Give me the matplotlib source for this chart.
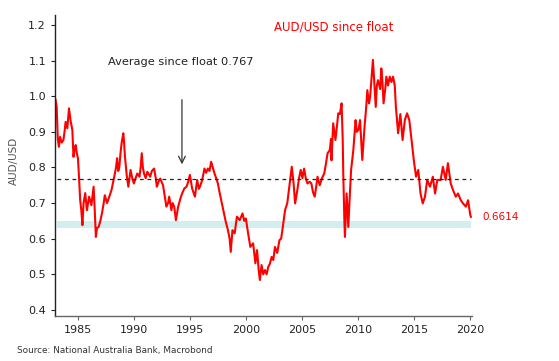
import matplotlib
matplotlib.use("Agg")
import matplotlib.pyplot as plt
from matplotlib.ticker import FormatStrFormatter

years = [
    1983.0, 1983.1, 1983.2, 1983.3, 1983.4, 1983.55, 1983.7, 1983.8, 1983.9, 1984.05,
    1984.2, 1984.35, 1984.5, 1984.6, 1984.7, 1984.8, 1984.9, 1985.0, 1985.1, 1985.2,
    1985.3, 1985.4, 1985.5, 1985.65, 1985.8, 1985.9, 1986.0, 1986.2, 1986.3, 1986.4,
    1986.5, 1986.6, 1986.7, 1986.85, 1987.0, 1987.15, 1987.3, 1987.4, 1987.6, 1987.8,
    1988.0, 1988.15, 1988.3, 1988.4, 1988.5, 1988.6, 1988.7, 1988.8, 1988.9, 1989.05,
    1989.1, 1989.2, 1989.35, 1989.5, 1989.7, 1989.85, 1990.0, 1990.15, 1990.3, 1990.5,
    1990.6, 1990.7, 1990.8, 1990.9, 1991.05, 1991.2, 1991.45, 1991.6, 1991.8, 1991.95,
    1992.05, 1992.2, 1992.35, 1992.6, 1992.75, 1992.9, 1993.05, 1993.15, 1993.35, 1993.45,
    1993.6, 1993.75, 1993.95, 1994.2, 1994.35, 1994.5, 1994.7, 1994.85, 1995.0, 1995.2,
    1995.45, 1995.65, 1995.8, 1995.9, 1996.1, 1996.3, 1996.45, 1996.6, 1996.75, 1996.9,
    1997.05, 1997.2, 1997.35, 1997.5, 1997.65, 1997.8, 1998.0, 1998.2, 1998.4, 1998.55,
    1998.65, 1998.8, 1999.0, 1999.2, 1999.45, 1999.7, 1999.85, 2000.0, 2000.2, 2000.4,
    2000.65, 2000.85, 2001.0, 2001.15, 2001.25, 2001.4, 2001.55, 2001.7, 2001.85, 2002.0,
    2002.15, 2002.3, 2002.45, 2002.6, 2002.8, 2003.0, 2003.15, 2003.3, 2003.5, 2003.7,
    2003.9, 2004.1, 2004.25, 2004.4, 2004.6, 2004.75, 2004.9, 2005.05, 2005.2, 2005.35,
    2005.5, 2005.7, 2005.85, 2006.0, 2006.15, 2006.3, 2006.4, 2006.6, 2006.8, 2007.0,
    2007.15, 2007.3, 2007.5, 2007.6, 2007.65, 2007.8, 2008.0, 2008.15, 2008.25, 2008.4,
    2008.55, 2008.65, 2008.7, 2008.8, 2008.85, 2009.0, 2009.15, 2009.25, 2009.4, 2009.6,
    2009.8, 2009.9, 2010.05, 2010.2, 2010.4, 2010.6, 2010.75, 2010.85, 2011.0, 2011.1,
    2011.25, 2011.35, 2011.45, 2011.6, 2011.7, 2011.8, 2012.0, 2012.1, 2012.2, 2012.3,
    2012.45, 2012.55, 2012.7, 2012.85, 2013.0, 2013.15, 2013.3, 2013.4, 2013.6, 2013.8,
    2014.0, 2014.2, 2014.4, 2014.6, 2014.8, 2015.0, 2015.2, 2015.4, 2015.6, 2015.8,
    2016.0, 2016.2, 2016.45, 2016.7, 2016.9, 2017.1, 2017.4, 2017.6, 2017.85, 2018.05,
    2018.3, 2018.5, 2018.75, 2018.95, 2019.2, 2019.4, 2019.65, 2019.85, 2020.05, 2020.1,
]
audusd = [
    0.99, 0.97, 0.88, 0.858, 0.886, 0.87, 0.877, 0.90, 0.928, 0.91,
    0.966, 0.93, 0.905, 0.83, 0.85, 0.863, 0.84, 0.826, 0.77, 0.708,
    0.68, 0.638, 0.70, 0.728, 0.68, 0.70, 0.718, 0.694, 0.72, 0.746,
    0.68, 0.605, 0.63, 0.633, 0.65, 0.672, 0.70, 0.722, 0.70, 0.718,
    0.737, 0.76, 0.783, 0.80, 0.826, 0.79, 0.802, 0.84, 0.868, 0.896,
    0.88, 0.83, 0.78, 0.746, 0.793, 0.77, 0.755, 0.77, 0.783, 0.774,
    0.80, 0.84, 0.80, 0.783, 0.77, 0.788, 0.774, 0.79, 0.797, 0.77,
    0.746, 0.76, 0.769, 0.75, 0.72, 0.69, 0.70, 0.718, 0.68, 0.70,
    0.69, 0.652, 0.69, 0.718, 0.73, 0.741, 0.746, 0.76, 0.779, 0.741,
    0.718, 0.765, 0.74, 0.746, 0.765, 0.797, 0.785, 0.797, 0.79, 0.816,
    0.80, 0.783, 0.77, 0.755, 0.73, 0.708, 0.68, 0.648, 0.624, 0.60,
    0.563, 0.624, 0.615, 0.662, 0.652, 0.671, 0.65, 0.657, 0.615, 0.577,
    0.587, 0.531, 0.568, 0.51, 0.484, 0.526, 0.50, 0.512, 0.50, 0.521,
    0.53, 0.549, 0.54, 0.577, 0.56, 0.596, 0.60, 0.633, 0.68, 0.70,
    0.75, 0.802, 0.76, 0.699, 0.737, 0.77, 0.793, 0.77, 0.797, 0.77,
    0.755, 0.76, 0.755, 0.73, 0.718, 0.75, 0.774, 0.75, 0.77, 0.783,
    0.81, 0.84, 0.849, 0.88, 0.82, 0.924, 0.877, 0.92, 0.952, 0.95,
    0.98, 0.88, 0.783, 0.65, 0.605, 0.727, 0.633, 0.70, 0.793, 0.849,
    0.933, 0.90, 0.905, 0.933, 0.821, 0.914, 0.97, 1.017, 0.98, 0.999,
    1.06, 1.102, 1.05, 0.97, 1.03, 1.045, 1.02, 1.078, 1.04, 0.98,
    1.02, 1.055, 1.03, 1.055, 1.04, 1.055, 1.03, 0.97, 0.896, 0.95,
    0.877, 0.933, 0.952, 0.933, 0.877, 0.821, 0.774, 0.793, 0.727, 0.699,
    0.718, 0.765, 0.746, 0.774, 0.727, 0.765, 0.765, 0.802, 0.765, 0.812,
    0.755, 0.737, 0.718, 0.727, 0.708, 0.699, 0.69, 0.708, 0.666, 0.6614,
]
average = 0.767
band_low, band_high = 0.63, 0.65
last_value = 0.6614
x_ticks = [1985, 1990, 1995, 2000, 2005, 2010, 2015, 2020]
y_ticks = [0.4, 0.5, 0.6, 0.7, 0.8, 0.9, 1.0, 1.1, 1.2]

plt.rcParams['font.family'] = ['DejaVu Sans']

fig = plt.figure(figsize=(5.59, 3.61), dpi=100)
ax = fig.add_axes([55/559, 1-316/361, (472-55)/559, (316-15)/361])

x0, x1 = 1982.95, 2020.2
ax.set_xlim(x0, x1)
ax.set_ylim(0.383, 1.228)

ax.fill_between([1983.1, 2020.1], band_low, band_high, color='#d2eeee', lw=0, zorder=1)
ax.plot([1983.1, 2020.1], [average, average], color='#222222', lw=0.9,
        ls=(0, (3, 3)), zorder=3)
ax.plot(years, audusd, color='#ff0000', lw=1.5, zorder=2)

for s in ['top', 'right']:
    ax.spines[s].set_visible(False)
ax.spines['left'].set_color('#222222')
ax.spines['bottom'].set_color('#666666')
ax.spines['left'].set_linewidth(1.0)
ax.spines['bottom'].set_linewidth(1.0)

ax.set_xticks(x_ticks)
ax.set_yticks(y_ticks)
ax.yaxis.set_major_formatter(FormatStrFormatter('%.1f'))
ax.tick_params(axis='both', labelsize=8, colors='#222222', length=3, width=0.8)
ax.tick_params(axis='x', colors='#666666', labelcolor='#222222')

ax.set_ylabel('AUD/USD', fontsize=7.5, color='#555555')
ax.yaxis.set_label_coords(-36/417, (316-161)/301)

ax.text(334/559, 1-27/361, 'AUD/USD since float', transform=fig.transFigure,
        color='#ff0000', fontsize=8.5, ha='center', va='center')
ax.text(108/559, 1-62/361, 'Average since float 0.767', transform=fig.transFigure,
        color='#222222', fontsize=8.2, ha='left', va='center')
ax.annotate('', xy=(1994.29, 0.801), xytext=(1994.29, 0.998),
            arrowprops=dict(arrowstyle='->', color='#333333', lw=0.9,
                            mutation_scale=12))
ax.text(482/559, 1-217/361, f'{last_value:.4f}', transform=fig.transFigure,
        color='#ff0000', fontsize=7.5, ha='left', va='center')
fig.text(17/559, 1-351/361, 'Source: National Australia Bank, Macrobond',
         color='#333333', fontsize=6.4, ha='left', va='center')

fig.savefig('out.png', dpi=100)
